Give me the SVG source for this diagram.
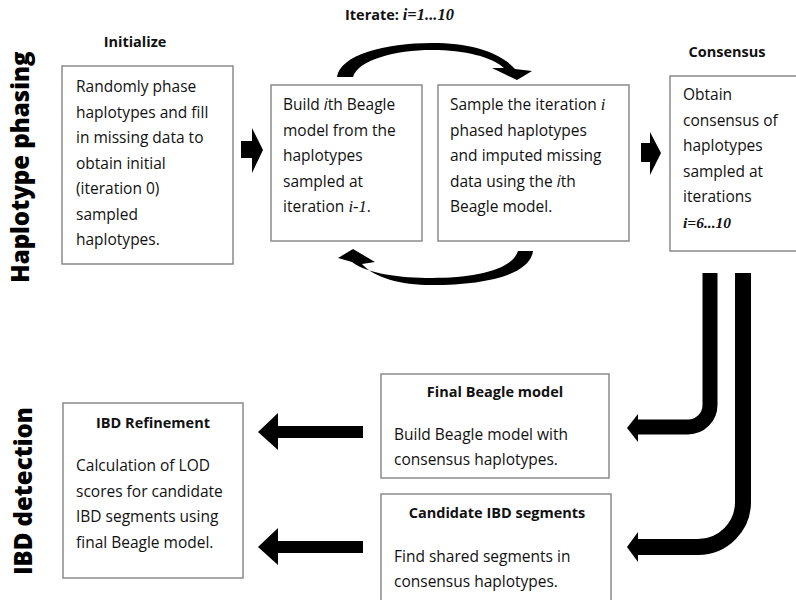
<svg xmlns="http://www.w3.org/2000/svg" width="796" height="600" viewBox="0 0 796 600">
<style>
.box{fill:#fff;stroke:#8a8a8a;stroke-width:1.5}
.t{font-family:"Open Sans","Liberation Sans",sans-serif;font-size:15.5px;fill:#111}
.b{font-family:"Open Sans","Liberation Sans",sans-serif;font-size:14.5px;font-weight:bold;fill:#111}
.side{font-family:"Open Sans","Liberation Sans",sans-serif;font-size:24px;font-weight:800;fill:#000}
.si{font-family:"Liberation Serif",serif;font-style:italic}
.sbi{font-family:"Liberation Serif",serif;font-style:italic;font-weight:bold}
.ar{fill:#000}
</style>
<rect width="796" height="600" fill="#fff"/>
<text class="side" transform="translate(29,167) rotate(-90)" text-anchor="middle">Haplotype phasing</text>
<text class="side" transform="translate(32,491) rotate(-90)" text-anchor="middle">IBD detection</text>
<text class="b" x="135" y="47" text-anchor="middle">Initialize</text>
<text class="b" x="345" y="20">Iterate: <tspan class="sbi" font-size="16.5px">i=1...10</tspan></text>
<text class="b" x="727" y="57" text-anchor="middle">Consensus</text>
<g id="init">
<rect class="box" x="62" y="66" width="171" height="198"/>
<text class="t" x="76" y="92">Randomly phase</text>
<text class="t" x="76" y="117.5">haplotypes and fill</text>
<text class="t" x="76" y="143">in missing data to</text>
<text class="t" x="76" y="168.5">obtain initial</text>
<text class="t" x="76" y="194">(iteration 0)</text>
<text class="t" x="76" y="219.5">sampled</text>
<text class="t" x="76" y="245">haplotypes.</text>
</g>
<g id="build">
<rect class="box" x="271" y="85" width="151" height="156"/>
<text class="t" x="283" y="110">Build <tspan font-style="italic">i</tspan>th Beagle</text>
<text class="t" x="283" y="135.5">model from the</text>
<text class="t" x="283" y="161">haplotypes</text>
<text class="t" x="283" y="186.5">sampled at</text>
<text class="t" x="283" y="212">iteration <tspan class="si" font-size="16.5px">i-1</tspan>.</text>
</g>
<g id="sample">
<rect class="box" x="438" y="85" width="191" height="156"/>
<text class="t" x="450" y="110">Sample the iteration <tspan class="si" font-size="16.5px">i</tspan></text>
<text class="t" x="450" y="135.5">phased haplotypes</text>
<text class="t" x="450" y="161">and imputed missing</text>
<text class="t" x="450" y="186.5">data using the <tspan font-style="italic">i</tspan>th</text>
<text class="t" x="450" y="212">Beagle model.</text>
</g>
<g id="consensus">
<rect class="box" x="670" y="76" width="140" height="175"/>
<text class="t" x="683" y="100">Obtain</text>
<text class="t" x="683" y="125.5">consensus of</text>
<text class="t" x="683" y="151">haplotypes</text>
<text class="t" x="683" y="176.5">sampled at</text>
<text class="t" x="683" y="202">iterations</text>
<text class="t sbi" x="683" y="228" font-size="16.5px">i=6...10</text>
</g>
<g id="refine">
<rect class="box" x="63" y="403" width="180" height="175"/>
<text class="b" x="153" y="428" text-anchor="middle">IBD Refinement</text>
<text class="t" x="76" y="471">Calculation of LOD</text>
<text class="t" x="76" y="496.5">scores for candidate</text>
<text class="t" x="76" y="522">IBD segments using</text>
<text class="t" x="76" y="547.5">final Beagle model.</text>
</g>
<g id="final">
<rect class="box" x="381" y="374" width="228" height="104"/>
<text class="b" x="495" y="397" text-anchor="middle">Final Beagle model</text>
<text class="t" x="394" y="440">Build Beagle model with</text>
<text class="t" x="394" y="465">consensus haplotypes.</text>
</g>
<g id="candidate">
<rect class="box" x="381" y="494" width="230" height="110"/>
<text class="b" x="497" y="518" text-anchor="middle">Candidate IBD segments</text>
<text class="t" x="394" y="562">Find shared segments in</text>
<text class="t" x="394" y="587">consensus haplotypes.</text>
</g>
<g id="connectors">
<polygon class="ar" points="241,141 252,141 252,128 263,150 252,173 252,158 241,158"/>
<polygon class="ar" points="641,143 650,143 650,132 661,153 650,175 650,162 641,162"/>
<path class="ar" d="M337,77 C340,55 385,43 432,43 C470,43 500,52 515,69 L532,71 L517,80 L492,68 L504,68 C492,57 465,50 432,50 C395,50 358,60 353,77 Z"/>
<path class="ar" d="M533,251 C530,275 485,285 432,285 C400,285 375,278 362,264 L375,262 L353,249 L338,258 L352,262 C368,274 400,278 432,278 C475,278 512,270 518,251 Z"/>
<polygon class="ar" points="363,426 278,426 278,413 258,432 278,450 278,438 363,438"/>
<polygon class="ar" points="363,541 278,541 278,528 258,547 278,565 278,553 363,553"/>
<path d="M710,273 V405 A22,22 0 0 1 688,427 H636" fill="none" stroke="#000" stroke-width="15"/>
<polygon class="ar" points="638,414 627,428 638,442"/>
<path d="M743,273 V502 A45,45 0 0 1 698,547 H636" fill="none" stroke="#000" stroke-width="16"/>
<polygon class="ar" points="638,532 627,547 638,562"/>
</g>
</svg>
